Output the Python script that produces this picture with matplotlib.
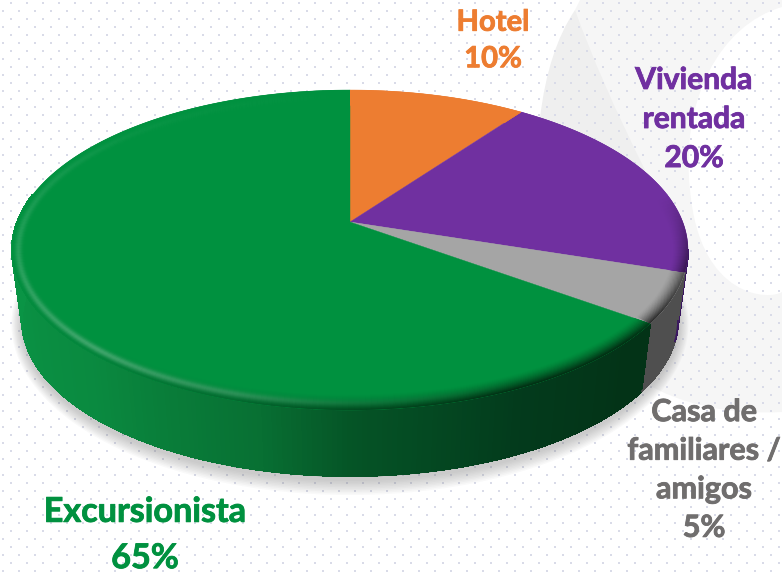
from __future__ import annotations

import matplotlib

matplotlib.use("Agg")
import matplotlib.patheffects as pe
import matplotlib.pyplot as plt
import numpy as np
from matplotlib.collections import LineCollection, PolyCollection
from matplotlib.patches import PathPatch
from matplotlib.path import Path


CATEGORIES = ["Hotel", "Vivienda\nrentada", "Casa de\nfamiliares /\namigos", "Excursionista"]
VALUES = [10, 20, 5, 65]
FACE_COLORS = ["#ed7d31", "#7030a0", "#a5a5a5", "#00913f"]
TEXT_COLORS = ["#ed7d31", "#7030a0", "#706e6e", "#00913f"]
LABEL_XY = [(493, 41), (694, 119), (704, 470), (145, 535)]
LABEL_SIZES = [21, 21.6, 22, 24.6]
LABEL_SPACING = [1.5, 1.48, 1.46, 1.55]

WIDTH, HEIGHT = 782, 575
CX, CY, RX, RY = 350.0, 250.0, 338.0, 160.0
BOTTOM_CY, BOTTOM_RX, BOTTOM_RY = 320.0, 328.0, 156.0
PERSPECTIVE = (250.0 - 222.0) / 160.0


def ellipse_xy(phi, cy=CY, rx=RX, ry=RY):
    return CX + rx * np.sin(phi), cy - ry * np.cos(phi)


def projected_phi(theta):
    # tilted disc: the pie centre sits above the centre of the drawn ellipse
    x, y = np.sin(theta), np.cos(theta)
    a = PERSPECTIVE
    new_y = (y + a) / (1 + a * y)
    new_x = x * np.sqrt(1 - a * a) / (1 + a * y)
    return np.mod(np.arctan2(new_x, new_y), 2 * np.pi)


def blend(color, target, amount):
    return tuple(c + (t - c) * amount for c, t in zip(color, target))


def draw_background(ax):
    band = Path(
        [
            (575, 10), (580, 0), (782, 0), (782, 7),
            (720, 25), (680, 100), (690, 190), (700, 300), (770, 300), (782, 292),
            (782, 412),
            (730, 415), (680, 405), (640, 380), (600, 300), (575, 10), (575, 10),
        ],
        [Path.MOVETO, Path.LINETO, Path.LINETO, Path.LINETO,
         Path.CURVE4, Path.CURVE4, Path.CURVE4, Path.CURVE4, Path.CURVE4, Path.CURVE4,
         Path.LINETO,
         Path.CURVE4, Path.CURVE4, Path.CURVE4, Path.CURVE4, Path.CURVE4, Path.CURVE4],
    )
    ax.add_patch(PathPatch(band, facecolor="#f6f6f6", edgecolor="none", zorder=0))
    fold = Path(
        [(575, 10), (548, 50), (540, 118), (640, 200), (645, 170), (600, 80), (575, 10)],
        [Path.MOVETO, Path.CURVE3, Path.CURVE3, Path.LINETO, Path.LINETO, Path.CURVE3, Path.CURVE3],
    )
    ax.add_patch(PathPatch(fold, facecolor="#efefef", edgecolor="none", zorder=0.1))

    dots_x, dots_y = [], []
    for row, y in enumerate(range(3, HEIGHT, 8)):
        start = 11 if row % 2 == 0 else 3
        for x in range(start, WIDTH, 16):
            dots_x.append(x)
            dots_y.append(y)
    ax.scatter(dots_x, dots_y, s=3.2, marker="s", color="#d9dbe8", linewidths=0, zorder=0.2)


def draw_shadow(ax):
    phi = np.linspace(0, 2 * np.pi, 240)
    for grow in np.linspace(15, 1, 10):
        x, y = ellipse_xy(phi, BOTTOM_CY + 4, BOTTOM_RX + grow * 0.7, BOTTOM_RY + grow)
        ax.fill(x, y, color="#777777", alpha=0.045, lw=0, zorder=0.5)


def draw_walls(ax, phi_edges):
    phi_stops = np.radians([90, 125, 150, 180, 196, 230, 270, 290])
    green_stops = np.array(
        [
            [0.01, 0.20, 0.09],
            [0.01, 0.20, 0.09],
            [0.01, 0.23, 0.11],
            [0.02, 0.33, 0.15],
            [0.03, 0.44, 0.20],
            [0.04, 0.54, 0.25],
            [0.04, 0.58, 0.27],
            [0.04, 0.58, 0.27],
        ]
    )
    wall_colors = {1: "#3a1560", 2: "#4f4f4f"}

    quads, colors, rim_segments = [], [], []
    for i in range(1, 4):
        start = np.radians(90) if i == 1 else phi_edges[i]
        stop = phi_edges[i + 1] if i < 3 else np.radians(290)
        steps = np.linspace(start, stop, 6 if i < 3 else 200)
        for p0, p1 in zip(steps[:-1], steps[1:]):
            x_top, y_top = ellipse_xy(np.array([p0, p1]))
            x_bot, y_bot = ellipse_xy(np.array([p1, p0]), BOTTOM_CY, BOTTOM_RX, BOTTOM_RY)
            quads.append(np.column_stack([np.r_[x_top, x_bot], np.r_[y_top, y_bot]]))
            rim_segments.append([(x_bot[0], y_bot[0]), (x_bot[1], y_bot[1])])
            if i == 3:
                mid = (p0 + p1) / 2
                colors.append([np.interp(mid, phi_stops, green_stops[:, c]) for c in range(3)])
            else:
                colors.append(matplotlib.colors.to_rgb(wall_colors[i]))
    ax.add_collection(
        PolyCollection(quads, facecolors=colors, edgecolors=colors, linewidths=0.8, antialiaseds=False, zorder=1)
    )
    ax.add_collection(LineCollection(rim_segments, colors=colors, linewidths=1.2, zorder=1.1))


def draw_faces(ax, phi_edges):
    apex = (CX, CY - PERSPECTIVE * RY)
    patches = []
    for i, color in enumerate(FACE_COLORS):
        phi = np.linspace(phi_edges[i], phi_edges[i + 1], 200)
        x, y = ellipse_xy(phi)
        patches.append(ax.fill(np.r_[apex[0], x], np.r_[apex[1], y], color=color, lw=0.3, zorder=2)[0])
    return patches


def draw_bevel(ax, phi_edges, patches):
    stops = np.radians([0, 70, 95, 125, 150, 180, 200, 230, 270, 320, 360])
    dark_amt = [0.0, 0.0, 0.45, 0.85, 0.85, 0.6, 0.35, 0.12, 0.0, 0.0, 0.0]
    light_amt = [0.0, 0.0, 0.0, 0.0, 0.0, 0.08, 0.2, 0.26, 0.14, 0.03, 0.0]
    width = 15.0

    for i, color in enumerate(FACE_COLORS):
        rgb = matplotlib.colors.to_rgb(color)
        segments, colors = [], []
        phi = np.linspace(phi_edges[i], phi_edges[i + 1], 60 if i < 3 else 240)
        for inset in np.linspace(width, 0, 31):
            x, y = ellipse_xy(phi, CY, RX - inset, RY - inset)
            for j in range(len(phi) - 1):
                mid = (phi[j] + phi[j + 1]) / 2
                light = np.interp(mid, stops, light_amt) * np.exp(-(((inset - 6) / 3.5) ** 2))
                dark = np.interp(mid, stops, dark_amt) * (1 - inset / width) ** 1.4
                shade = blend(blend(rgb, (1, 1, 1), light), (0.01, 0.12, 0.05) if i == 3 else (0, 0, 0), dark)
                segments.append([(x[j], y[j]), (x[j + 1], y[j + 1])])
                colors.append(shade)
        rim = LineCollection(segments, colors=colors, linewidths=1.0, zorder=3)
        ax.add_collection(rim)
        rim.set_clip_path(patches[i])


def main() -> None:
    fig = plt.figure(figsize=(WIDTH / 100, HEIGHT / 100), dpi=100)
    ax = fig.add_axes([0, 0, 1, 1])
    ax.set_xlim(0, WIDTH)
    ax.set_ylim(HEIGHT, 0)
    ax.axis("off")

    shares = np.cumsum([0] + VALUES) / sum(VALUES)
    phi_edges = projected_phi(shares * 2 * np.pi)
    phi_edges[-1] = 2 * np.pi

    draw_background(ax)
    draw_shadow(ax)
    draw_walls(ax, phi_edges)
    patches = draw_faces(ax, phi_edges)
    draw_bevel(ax, phi_edges, patches)

    for name, value, color, (x, y), size, spacing in zip(
        CATEGORIES, VALUES, TEXT_COLORS, LABEL_XY, LABEL_SIZES, LABEL_SPACING
    ):
        ax.text(
            x, y, f"{name}\n{value}%",
            color=color, fontsize=size, fontweight="bold", family=["Lato", "DejaVu Sans"],
            ha="center", va="center", linespacing=spacing, zorder=5,
            path_effects=[pe.withStroke(linewidth=0.6, foreground=color)],
        )

    fig.savefig("out.png", dpi=100)
    plt.close(fig)


if __name__ == "__main__":
    main()
